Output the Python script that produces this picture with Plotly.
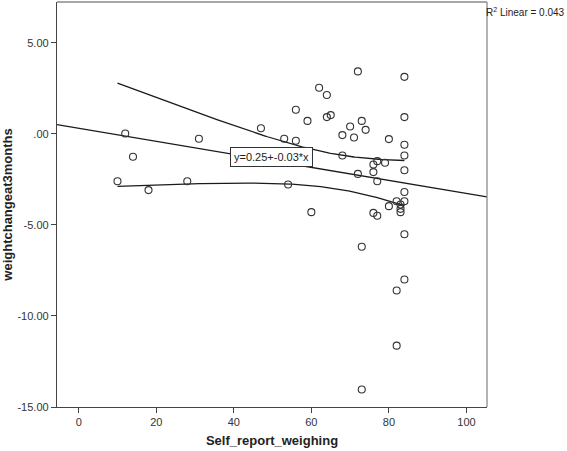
import numpy as np
import plotly.graph_objects as go

# ---- data ----
self_report_weighing = [10, 12, 14, 18, 28, 31, 47, 53, 54, 56, 56, 59, 60, 62, 64, 64, 65,
                        68, 68, 70, 71, 72, 72, 73, 73, 73, 74, 76, 76, 76, 77, 77, 77, 79,
                        80, 80, 82, 82, 82, 83, 83, 83, 84, 84, 84, 84, 84, 84, 84, 84, 84]
weightchange_3months = [-2.6, 0.02, -1.26, -3.09, -2.6, -0.27, 0.31, -0.27, -2.78, -0.38, 1.32,
                        0.71, -4.3, 2.53, 2.13, 0.92, 1.03, -0.07, -1.19, 0.4, -0.2, 3.43, -2.2,
                        0.71, -6.2, -14.04, 0.22, -1.68, -2.1, -4.34, -1.5, -2.6, -4.5, -1.59,
                        -0.29, -3.97, -3.7, -8.6, -11.63, -3.88, -4.12, -4.3, 3.13, 0.92, -0.6,
                        -1.19, -2.0, -3.19, -3.7, -5.51, -8.0]
x_ticks = [0, 20, 40, 60, 80, 100]
y_ticks = [5, 0, -5, -10, -15]
y_tick_labels = ["5.00", ".00", "-5.00", "-10.00", "-15.00"]
equation_text = "y=0.25+-0.03*x"
r2_text = "R<sup>2</sup> Linear = 0.043"
T_CRIT = 2.01  # t(0.975, n-2)

x = np.array(self_report_weighing, dtype=float)
y = np.array(weightchange_3months, dtype=float)
n = len(x)
b, a = np.polyfit(x, y, 1)
resid = y - (a + b * x)
s = np.sqrt(np.sum(resid ** 2) / (n - 2))
sxx = np.sum((x - x.mean()) ** 2)

X_RANGE = [-5.6, 105.3]
Y_RANGE = [-15, 7.24]

xl = np.array(X_RANGE)
xb = np.linspace(x.min(), x.max(), 200)
yb = a + b * xb
half = T_CRIT * s * np.sqrt(1.0 / n + (xb - x.mean()) ** 2 / sxx)

LINE = "#1a1a1a"
fig = go.Figure()
fig.add_trace(go.Scatter(x=xl, y=a + b * xl, mode="lines", name="fit",
                         line=dict(color=LINE, width=1.3), hoverinfo="skip"))
fig.add_trace(go.Scatter(x=xb, y=yb + half, mode="lines", name="upper",
                         line=dict(color=LINE, width=1.3), hoverinfo="skip"))
fig.add_trace(go.Scatter(x=xb, y=yb - half, mode="lines", name="lower",
                         line=dict(color=LINE, width=1.3), hoverinfo="skip"))
fig.add_trace(go.Scatter(x=x, y=y, mode="markers", name="obs",
                         marker=dict(symbol="circle-open", size=7, color="#333333",
                                     line=dict(width=1.1, color="#333333"))))

fig.add_annotation(x=49.8, y=-1.25, xref="x", yref="y", text=equation_text,
                   showarrow=False, bgcolor="white", bordercolor="#333333", borderwidth=1,
                   borderpad=3, font=dict(family="Liberation Sans, Arial", size=11, color="#222222"))
fig.add_annotation(x=1.0, y=1.0, xref="paper", yref="paper", xanchor="left", yanchor="top",
                   xshift=-2, yshift=-3, text=r2_text, showarrow=False, borderpad=0,
                   font=dict(family="Liberation Sans, Arial", size=10, color="#222222"))

# right / top frame
fig.add_shape(type="line", xref="paper", yref="paper", x0=0, x1=1, y0=1, y1=1,
              line=dict(color="#8a8a8a", width=1.3))
fig.add_shape(type="line", xref="paper", yref="paper", x0=1, x1=1, y0=0, y1=1,
              line=dict(color="#8a8a8a", width=1.3))

axis_font = dict(family="Liberation Sans, Arial", size=11, color="#333333")
fig.update_layout(
    width=567, height=451,
    margin=dict(l=57, r=80, t=2, b=44),
    paper_bgcolor="white", plot_bgcolor="white",
    showlegend=False,
    xaxis=dict(range=X_RANGE, tickvals=x_ticks, ticks="outside", ticklen=5,
               tickcolor="#444444", showgrid=False, zeroline=False, automargin=False,
               showline=True, linecolor="#444444", linewidth=1.3,
               tickfont=axis_font,
               title=dict(text="<b>Self_report_weighing</b>", standoff=8,
                          font=dict(family="Liberation Sans, Arial", size=13, color="#222222"))),
    yaxis=dict(range=Y_RANGE, tickvals=y_ticks, ticktext=y_tick_labels, ticks="outside",
               ticklen=5, tickcolor="#444444", showgrid=False, zeroline=False, automargin=False,
               showline=True, linecolor="#444444", linewidth=1.3,
               tickfont=axis_font,
               title=dict(text="<b>weightchangeat3months</b>", standoff=6,
                          font=dict(family="Liberation Sans, Arial", size=13, color="#222222"))),
)

fig.write_html("out.html", config={"displayModeBar": False},
               post_script="document.body.style.margin='0';")
